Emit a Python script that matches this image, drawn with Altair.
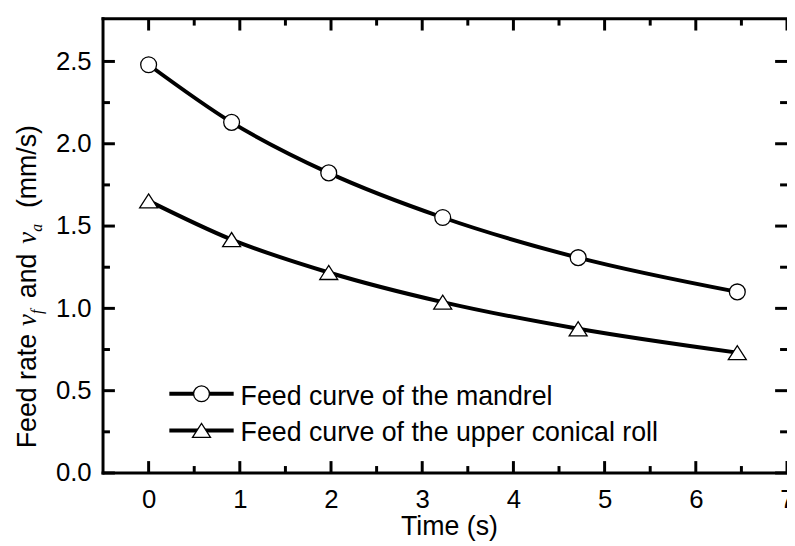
import altair as alt
import pandas as pd

# ---- data ----
time_s = [0, 0.91, 1.975, 3.225, 4.71, 6.455]
mandrel = [2.48, 2.13, 1.823, 1.552, 1.308, 1.10]
conical = [1.653, 1.418, 1.218, 1.038, 0.876, 0.731]
series_names = ["Feed curve of the mandrel", "Feed curve of the upper conical roll"]

x_major = [0, 1, 2, 3, 4, 5, 6, 7]
x_minor = [0.5, 1.5, 2.5, 3.5, 4.5, 5.5, 6.5]
y_major = [0.0, 0.5, 1.0, 1.5, 2.0, 2.5]
y_minor = [0.25, 0.75, 1.25, 1.75, 2.25]

x_title = "Time (s)"
# y title pieces: (text, italic serif?, subscript?)
y_title_parts = [("Feed rate", False, False), ("v", True, False), ("f", True, True),
                 ("and", False, False), ("v", True, False), ("a", True, True),
                 ("(mm/s)", False, False)]

# ---- layout ----
W, H = 691, 459
SANS = "Liberation Sans"
SERIF = "Liberation Serif"
FS = 26
LFS = 27
TFS = 27
TRI = "M-1,0.78L0,-0.78L1,0.78Z"

df = pd.DataFrame({
    "t": time_s + time_s,
    "v": mandrel + conical,
    "series": [series_names[0]] * len(time_s) + [series_names[1]] * len(time_s),
})

xs = alt.Scale(domain=[-0.5, 7.0], nice=False, zero=False)
ys = alt.Scale(domain=[0, 2.76], nice=False, zero=False)

x_axis = alt.Axis(values=x_major, format="d", ticks=False, tickSize=0, domain=False, grid=False,
                  labelFont=SANS, labelFontSize=FS, labelColor="black", labelPadding=14,
                  labelOverlap=False, labelFlush=False, title=None)
y_axis = alt.Axis(values=y_major, format=".1f", ticks=False, tickSize=0, domain=False, grid=False,
                  labelFont=SANS, labelFontSize=FS, labelColor="black", labelPadding=12,
                  labelOverlap=False, title=None)

X = alt.X("t:Q", scale=xs, axis=x_axis)
Y = alt.Y("v:Q", scale=ys, axis=y_axis)

one = pd.DataFrame({"k": [0]})

lines = alt.Chart(df).mark_line(interpolate="monotone", strokeWidth=4, color="black").encode(
    x=X, y=Y, detail="series:N")

points = alt.Chart(df).mark_point(fill="white", fillOpacity=1, stroke="black", strokeWidth=1.3,
                                  opacity=1).encode(
    x=X, y=Y,
    shape=alt.Shape("series:N", scale=alt.Scale(domain=series_names, range=["circle", TRI]), legend=None),
    size=alt.Size("series:N", scale=alt.Scale(domain=series_names, range=[256, 330]), legend=None),
)

xmaj = pd.DataFrame({"t": x_major})
xmin = pd.DataFrame({"t": x_minor})
ymaj = pd.DataFrame({"v": y_major})
ymin = pd.DataFrame({"v": y_minor})

def rule(data):
    return alt.Chart(data).mark_rule(strokeWidth=3, color="black")

ticks = [
    rule(xmaj).encode(x=X, y=alt.value(H), y2=alt.value(H - 12)),
    rule(xmin).encode(x=X, y=alt.value(H), y2=alt.value(H - 7)),
    rule(xmaj).encode(x=X, y=alt.value(0), y2=alt.value(12)),
    rule(xmin).encode(x=X, y=alt.value(0), y2=alt.value(7)),
    rule(ymaj).encode(y=Y, x=alt.value(0), x2=alt.value(12)),
    rule(ymin).encode(y=Y, x=alt.value(0), x2=alt.value(7)),
    rule(ymaj).encode(y=Y, x=alt.value(W), x2=alt.value(W - 12)),
    rule(ymin).encode(y=Y, x=alt.value(W), x2=alt.value(W - 7)),
]

frame = [
    alt.Chart(one).mark_rule(strokeWidth=3, color="black", strokeCap="square").encode(
        x=alt.value(0), x2=alt.value(W), y=alt.value(0)),
    alt.Chart(one).mark_rule(strokeWidth=3, color="black", strokeCap="square").encode(
        x=alt.value(0), x2=alt.value(W), y=alt.value(H)),
    alt.Chart(one).mark_rule(strokeWidth=3, color="black", strokeCap="square").encode(
        x=alt.value(0), y=alt.value(0), y2=alt.value(H)),
]

# x title
xtitle = alt.Chart(one).mark_text(text=x_title, font=SANS, fontSize=TFS, color="black",
                                  align="center", baseline="alphabetic").encode(
    x=alt.value(350), y=alt.value(H + 63))

# y title built from pieces (rotated, reading upward)
ytitle = []
ypos = 434.0
bx = -68
advance = {"Feed rate": 115.6 + 8, "v": 12.0, "f": 6.0 + 10, "and": 45.0 + 10,
           "a": 8.0 + 16, "(mm/s)": 84.0}
for txt, ital, sub in y_title_parts:
    ytitle.append(alt.Chart(one).mark_text(
        text=txt, font=SERIF if ital else SANS, fontStyle="italic" if ital else "normal",
        fontSize=16 if sub else TFS, color="black", align="left", baseline="alphabetic",
        angle=270).encode(x=alt.value(bx + (6 if sub else 0)), y=alt.value(ypos)))
    ypos -= advance[txt]

# legend
legend = []
rows = [(379, "circle", 256), (416, TRI, 330)]
for (ly, shp, sz), name in zip(rows, series_names):
    legend.append(alt.Chart(one).mark_rule(strokeWidth=4, color="black").encode(
        x=alt.value(67), x2=alt.value(132), y=alt.value(ly)))
    legend.append(alt.Chart(one).mark_point(shape=shp, size=sz, fill="white", fillOpacity=1,
                                            stroke="black", strokeWidth=1.3, opacity=1).encode(
        x=alt.value(99.5), y=alt.value(ly)))
    legend.append(alt.Chart(one).mark_text(text=name, font=SANS, fontSize=LFS, color="black",
                                           align="left", baseline="middle").encode(
        x=alt.value(139), y=alt.value(ly + 3)))

chart = alt.layer(lines, points, *ticks, *frame, xtitle, *ytitle, *legend).properties(
    width=W, height=H,
    autosize=alt.AutoSizeParams(type="none"),
    padding={"left": 96, "top": 8, "right": 0, "bottom": 70},
    background="white",
).configure_view(strokeWidth=0)

chart.save("out.html", embed_options={"renderer": "svg", "actions": False})
